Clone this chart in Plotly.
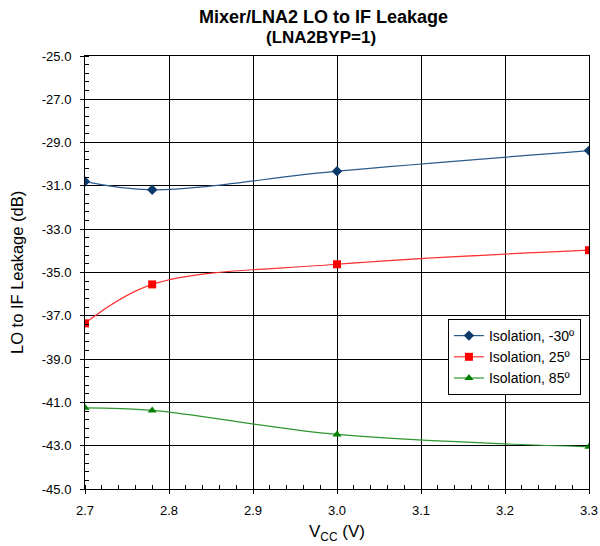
import plotly.graph_objects as go

vcc = [2.7, 2.78, 3.0, 3.3]
iso_m30 = [-30.8, -31.18, -30.32, -29.37]
iso_25 = [-37.35, -35.55, -34.62, -33.97]
iso_85 = [-41.25, -41.37, -42.48, -43.05]

names = ["Isolation, -30º", "Isolation, 25º", "Isolation, 85º"]
yticks = [-45, -43, -41, -39, -37, -35, -33, -31, -29, -27, -25]
xticks = [2.7, 2.8, 2.9, 3.0, 3.1, 3.2, 3.3]

FONT = "Liberation Sans, Arial, sans-serif"

fig = go.Figure()
fig.add_trace(go.Scatter(x=vcc, y=iso_m30, name=names[0], mode="lines+markers",
                         line=dict(color="#2A5A8C", width=1.2, shape="spline", smoothing=1),
                         marker=dict(symbol="diamond", size=8, color="#0B3B6B")))
fig.add_trace(go.Scatter(x=vcc, y=iso_25, name=names[1], mode="lines+markers",
                         line=dict(color="#FF3030", width=1.2, shape="spline", smoothing=1),
                         marker=dict(symbol="square", size=8, color="#FF0000")))
fig.add_trace(go.Scatter(x=vcc, y=iso_85, name=names[2], mode="lines+markers",
                         line=dict(color="#2E962E", width=1.2, shape="spline", smoothing=1),
                         marker=dict(symbol="triangle-up", size=8, color="#008000")))

fig.update_layout(
    width=600, height=546,
    margin=dict(l=85, r=11, t=56, b=57, autoexpand=False),
    paper_bgcolor="white", plot_bgcolor="white",
    font=dict(family=FONT, size=12, color="black"),
    showlegend=True,
    legend=dict(x=0.984, xanchor="right", y=0.3926, yanchor="top",
                bgcolor="white", bordercolor="black", borderwidth=1,
                font=dict(size=14, family=FONT), tracegroupgap=1,
                itemwidth=30),
    annotations=[
        dict(text="<b>Mixer/LNA2 LO to IF Leakage</b>", x=0.473, y=1, yanchor="bottom",
             yshift=27, xref="paper", yref="paper", showarrow=False,
             font=dict(size=18, family=FONT)),
        dict(text="<b>(LNA2BYP=1)</b>", x=0.468, y=1, yanchor="bottom", yshift=7,
             xref="paper", yref="paper", showarrow=False, font=dict(size=17, family=FONT)),
        dict(text="LO to IF Leakage (dB)", x=-0.135, xanchor="center", y=0.501,
             yanchor="middle", xref="paper", yref="paper",
             textangle=-90, showarrow=False, font=dict(size=16.5, family=FONT)),
        dict(text="V<sub>CC</sub> (V)", x=0.5, xanchor="center", y=-0.1016, yanchor="middle",
             xref="paper", yref="paper",
             showarrow=False, font=dict(size=17, family=FONT)),
    ],
)

fig.update_xaxes(range=[2.7, 3.3], tickvals=xticks, ticktext=[f"{v:.1f}" for v in xticks],
                 automargin=False,
                 showgrid=True, gridcolor="black", gridwidth=1,
                 showline=True, linecolor="black", linewidth=1, mirror=True,
                 ticks="outside", ticklen=4, tickcolor="black", ticklabelstandoff=5,
                 minor=dict(dtick=0.02, tick0=2.7, ticks="inside", ticklen=4, tickcolor="black", showgrid=False),
                 zeroline=False,
                 tickfont=dict(size=13, family=FONT))
fig.update_yaxes(range=[-45, -25], tickvals=yticks, ticktext=[f"{v:.1f}" for v in yticks],
                 automargin=False,
                 showgrid=True, gridcolor="black", gridwidth=1,
                 showline=True, linecolor="black", linewidth=1, mirror=True,
                 ticks="outside", ticklen=4, tickcolor="black", ticklabelstandoff=6,
                 minor=dict(dtick=0.4, tick0=-45, ticks="inside", ticklen=4, tickcolor="black", showgrid=False),
                 zeroline=False,
                 tickfont=dict(size=13, family=FONT))

fig.write_html("out.html", config={"displayModeBar": False},
               post_script="document.body.style.margin='0';")
